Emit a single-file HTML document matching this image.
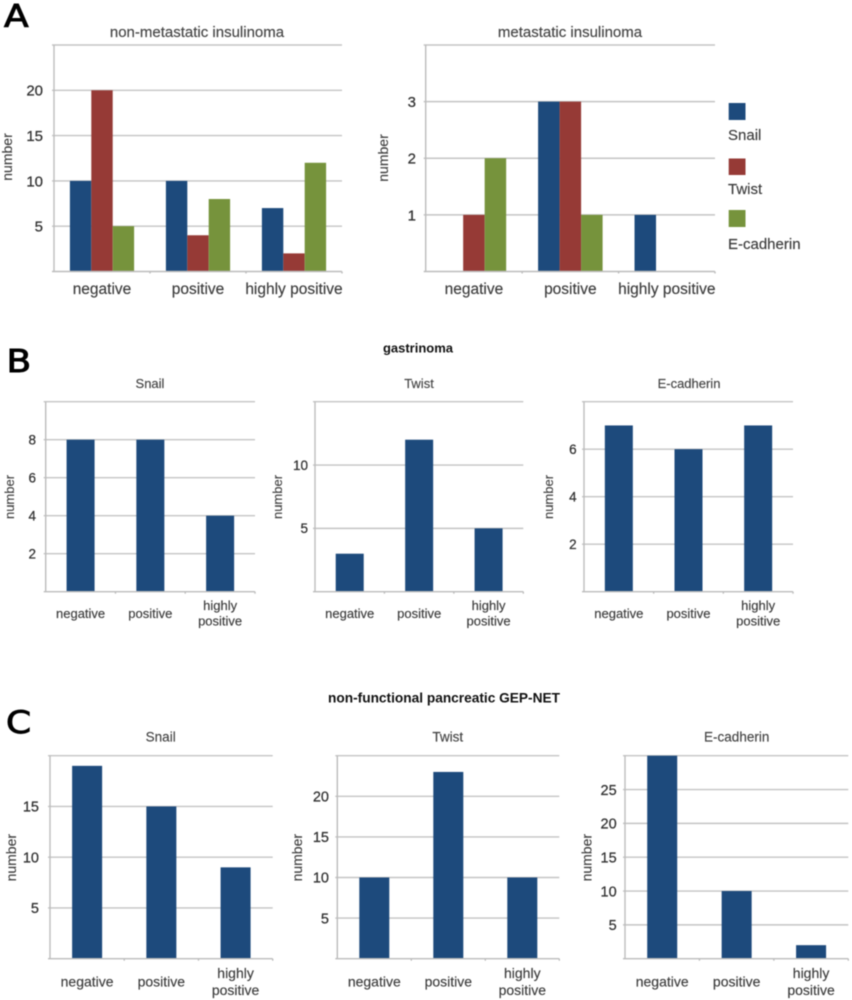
<!DOCTYPE html>
<html lang="en">
<head>
<meta charset="utf-8">
<title>Snail, Twist and E-cadherin expression by tumour type</title>
<style>
  html, body { margin: 0; padding: 0; background: #fff; }
  #figure { display: block; width: 852px; height: 1000px; filter: blur(0.65px); font-family: "Liberation Sans", sans-serif; }
  .grid { stroke: #c4c4c4; stroke-width: 1.4; fill: none; }
  .axis { stroke: #bcbcbc; stroke-width: 1.4; fill: none; }
  .title { fill: #444; text-anchor: middle; stroke: #444; stroke-width: 0.15; }
  .main-title { fill: #111; font-weight: bold; text-anchor: middle; }
  .tick { fill: #333; text-anchor: end; stroke: #333; stroke-width: 0.25; }
  .cat { fill: #3c3c3c; text-anchor: middle; stroke: #3c3c3c; stroke-width: 0.15; }
  .ylab { fill: #3c3c3c; text-anchor: middle; stroke: #3c3c3c; stroke-width: 0.1; }
  .legend-text { fill: #3c3c3c; font-size: 15px; stroke: #3c3c3c; stroke-width: 0.15; }
  .panel-letter { fill: #000; stroke: #000; stroke-width: 0.9; font-family: "DejaVu Sans", sans-serif; font-size: 31px; }
</style>
</head>
<body>
<svg id="figure" xmlns="http://www.w3.org/2000/svg" width="852" height="1000" viewBox="0 0 852 1000">
  <rect width="852" height="1000" fill="#fff"/>

  <text class="panel-letter" transform="translate(4 27) scale(1.16 1)">A</text>
  <text class="panel-letter" transform="translate(6.5 372) scale(1.16 1)">B</text>
  <text class="panel-letter" transform="translate(6 733) scale(1.16 1)">C</text>

  <text class="main-title" x="418" y="352.5" font-size="13">gastrinoma</text>
  <text class="main-title" x="444" y="702.5" font-size="13.7">non-functional pancreatic GEP-NET</text>

  <g id="legend">
    <rect x="728.7" y="103" width="16.8" height="17" fill="#1d4a7c"/>
    <text class="legend-text" x="728" y="140">Snail</text>
    <rect x="728.7" y="158.5" width="16.8" height="16.5" fill="#963a36"/>
    <text class="legend-text" x="728" y="194">Twist</text>
    <rect x="728.7" y="210" width="16.8" height="17" fill="#76933c"/>
    <text class="legend-text" x="728" y="249">E-cadherin</text>
  </g>
</svg>

<script>
// ---- chart data ----
const categories = ['negative', 'positive', 'highly positive'];

const nonMetastaticSnail = [10, 10, 7];
const nonMetastaticTwist = [20, 4, 2];
const nonMetastaticEcad = [5, 8, 12];
const nonMetastaticTicks = [5, 10, 15, 20];
const nonMetastaticMax = 25;

const metastaticSnail = [0, 3, 1];
const metastaticTwist = [1, 3, 0];
const metastaticEcad = [2, 1, 0];
const metastaticTicks = [1, 2, 3];
const metastaticMax = 4;

const gastrinomaSnail = [8, 8, 4];
const gastrinomaSnailTicks = [2, 4, 6, 8];
const gastrinomaSnailMax = 10;

const gastrinomaTwist = [3, 12, 5];
const gastrinomaTwistTicks = [5, 10];
const gastrinomaTwistMax = 15;

const gastrinomaEcad = [7, 6, 7];
const gastrinomaEcadTicks = [2, 4, 6];
const gastrinomaEcadMax = 8;

const nonFunctionalSnail = [19, 15, 9];
const nonFunctionalSnailTicks = [5, 10, 15];
const nonFunctionalSnailMax = 20;

const nonFunctionalTwist = [10, 23, 10];
const nonFunctionalTwistTicks = [5, 10, 15, 20];
const nonFunctionalTwistMax = 25;

const nonFunctionalEcad = [30, 10, 2];
const nonFunctionalEcadTicks = [5, 10, 15, 20, 25];
const nonFunctionalEcadMax = 30;

const snailColor = '#1d4a7c';
const twistColor = '#963a36';
const ecadColor = '#76933c';

// ---- rendering ----
const SVGNS = 'http://www.w3.org/2000/svg';
const root = document.getElementById('figure');

function make(parent, tag, attrs, text) {
  const el = document.createElementNS(SVGNS, tag);
  for (const k in attrs) el.setAttribute(k, attrs[k]);
  if (text !== undefined) el.textContent = text;
  parent.appendChild(el);
  return el;
}

function drawChart(c) {
  const g = make(root, 'g', {});
  
  

  const yScale = function (v) { return c.bottom - (v / c.max) * (c.bottom - c.top); };
  const band = (c.right - c.left) / categories.length;
  const xCenter = function (i) { return c.left + band * (i + 0.5); };

  // top gridline plus one per tick
  const topLine = make(g, 'line', { class: 'grid', x1: c.left - 2, x2: c.right, y1: c.top, y2: c.top });
  
  
  c.ticks.forEach(function (t) {
    const y = yScale(t);
    const line = make(g, 'line', { class: 'grid', x1: c.left - 2, x2: c.right, y1: y, y2: y });
    
    
    const label = make(g, 'text', { class: 'tick', x: c.tickRight, y: y + c.tickSize * 0.36, 'font-size': c.tickSize }, String(t));
    
    
  });

  // bars
  c.series.forEach(function (s, si) {
    const total = c.series.length * c.barW;
    s.values.forEach(function (v, i) {
      const x = xCenter(i) - total / 2 + si * c.barW;
      const y = yScale(v);
      const bar = make(g, 'rect', { x: x, y: y, width: c.barW, height: c.bottom - y, fill: s.color });
      
      
    });
  });

  // axes
  const yAxis = make(g, 'line', { class: 'axis', x1: c.left, x2: c.left, y1: c.top, y2: c.bottom });
  
  
  const xAxis = make(g, 'line', { class: 'axis', x1: c.left - 2, x2: c.right, y1: c.bottom, y2: c.bottom });
  
  
  for (let i = 1; i <= categories.length; i++) {
    const tx = c.left + band * i;
    const tick = make(g, 'line', { class: 'axis', x1: tx, x2: tx, y1: c.bottom, y2: c.bottom + 2 });
    
    
  }

  // category labels
  categories.forEach(function (cat, i) {
    const parts = cat.split(' ');
    if (c.wrap && parts.length > 1) {
      parts.forEach(function (p, pi) {
        const t = make(g, 'text', { class: 'cat', x: xCenter(i), y: c.wrapBase + pi * c.wrapGap, 'font-size': c.catSize }, p);
        
        
      });
    } else {
      const t = make(g, 'text', { class: 'cat', x: xCenter(i), y: c.catBase, 'font-size': c.catSize }, cat);
      
      
    }
  });

  // chart title
  const title = make(g, 'text', { class: 'title', x: c.titleX, y: c.titleY, 'font-size': c.titleSize }, c.title);
  
  

  // y axis title
  const ylab = make(g, 'text', {
    class: 'ylab',
    transform: 'translate(' + c.numberX + ' ' + c.numberY + ') rotate(-90)',
    'font-size': c.numberSize
  }, 'number');
  
  
}

// Panel A
drawChart({ name: 'chart-non-metastatic-insulinoma', title: 'non-metastatic insulinoma', titleX: 197, titleY: 37, titleSize: 15,
  left: 54, right: 342, top: 45, bottom: 271.5, max: nonMetastaticMax, ticks: nonMetastaticTicks, tickRight: 43, tickSize: 15,
  barW: 21.4, series: [{ values: nonMetastaticSnail, color: snailColor }, { values: nonMetastaticTwist, color: twistColor }, { values: nonMetastaticEcad, color: ecadColor }],
  catBase: 294, catSize: 15.5, wrap: false, numberX: 12, numberY: 157, numberSize: 14 });
drawChart({ name: 'chart-metastatic-insulinoma', title: 'metastatic insulinoma', titleX: 570, titleY: 37, titleSize: 15,
  left: 425.7, right: 715, top: 45, bottom: 271.5, max: metastaticMax, ticks: metastaticTicks, tickRight: 416, tickSize: 15,
  barW: 21.5, series: [{ values: metastaticSnail, color: snailColor }, { values: metastaticTwist, color: twistColor }, { values: metastaticEcad, color: ecadColor }],
  catBase: 294, catSize: 15.5, wrap: false, numberX: 388, numberY: 158, numberSize: 14 });

// Panel B
const bFrame = { top: 401.7, bottom: 591.7, titleY: 388, titleSize: 13, tickSize: 13.5, barW: 28, catBase: 618, catSize: 13, wrap: true, wrapBase: 610, wrapGap: 15.7, numberY: 497, numberSize: 13 };
drawChart(Object.assign({}, bFrame, { name: 'chart-gastrinoma-snail', title: 'Snail', titleX: 150, left: 45.7, right: 255, max: gastrinomaSnailMax, ticks: gastrinomaSnailTicks, tickRight: 36, series: [{ values: gastrinomaSnail, color: snailColor }], numberX: 14 }));
drawChart(Object.assign({}, bFrame, { name: 'chart-gastrinoma-twist', title: 'Twist', titleX: 419, left: 315, right: 523.3, max: gastrinomaTwistMax, ticks: gastrinomaTwistTicks, tickRight: 308, series: [{ values: gastrinomaTwist, color: snailColor }], numberX: 282 }));
drawChart(Object.assign({}, bFrame, { name: 'chart-gastrinoma-e-cadherin', title: 'E-cadherin', titleX: 689, left: 584, right: 793, max: gastrinomaEcadMax, ticks: gastrinomaEcadTicks, tickRight: 576.7, series: [{ values: gastrinomaEcad, color: snailColor }], numberX: 553 }));

// Panel C
const cFrame = { top: 755.7, bottom: 958.7, titleY: 741.7, titleSize: 13.5, tickSize: 14.5, barW: 30, catBase: 986.7, catSize: 14, wrap: true, wrapBase: 978, wrapGap: 17, numberY: 857.7, numberSize: 14 };
drawChart(Object.assign({}, cFrame, { name: 'chart-non-functional-snail', title: 'Snail', titleX: 160.7, left: 50, right: 272.7, max: nonFunctionalSnailMax, ticks: nonFunctionalSnailTicks, tickRight: 39, series: [{ values: nonFunctionalSnail, color: snailColor }], numberX: 16 }));
drawChart(Object.assign({}, cFrame, { name: 'chart-non-functional-twist', title: 'Twist', titleX: 447.7, left: 337.3, right: 559.3, max: nonFunctionalTwistMax, ticks: nonFunctionalTwistTicks, tickRight: 329, series: [{ values: nonFunctionalTwist, color: snailColor }], numberX: 302 }));
drawChart(Object.assign({}, cFrame, { name: 'chart-non-functional-e-cadherin', title: 'E-cadherin', titleX: 736.7, left: 625, right: 848.3, max: nonFunctionalEcadMax, ticks: nonFunctionalEcadTicks, tickRight: 616.7, series: [{ values: nonFunctionalEcad, color: snailColor }], numberX: 591.5 }));
</script>
</body>
</html>
